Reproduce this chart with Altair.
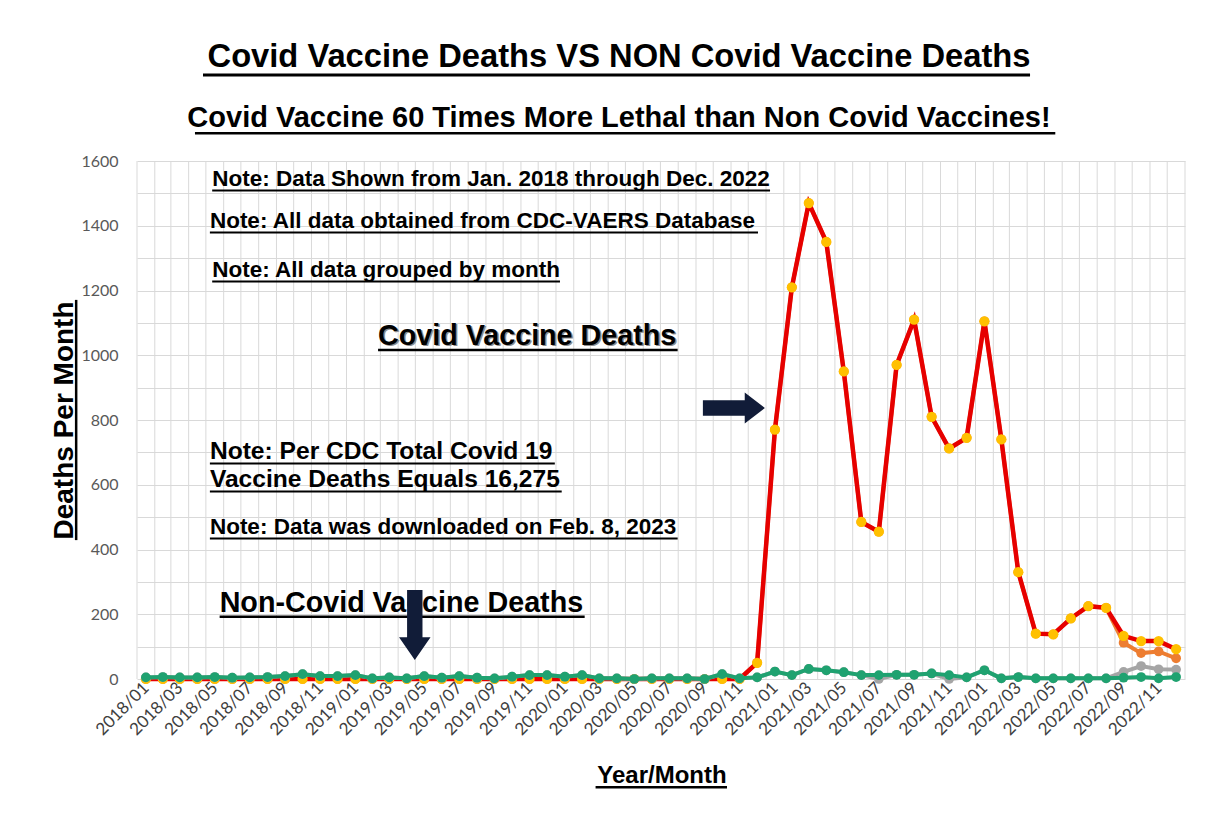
import altair as alt
import pandas as pd

# ---------------- data ----------------
months = [f"{y}/{m:02d}" for y in range(2018, 2023) for m in range(1, 13)]

covid_deaths = [
    0, 0, 0, 0, 0, 0, 0, 0, 0, 0, 0, 0,
    0, 0, 0, 0, 0, 0, 0, 0, 0, 0, 0, 0,
    0, 0, 0, 0, 0, 0, 0, 0, 0, 0, 0, 50,
    770, 1210, 1470, 1350, 950, 485, 455, 970, 1110, 810, 712, 745,
    1105, 740, 330, 140, 138, 187, 225, 220, 133, 117, 117, 92,
]
covid_deaths_b = [
    0, 0, 0, 0, 0, 0, 0, 0, 0, 0, 0, 0,
    0, 0, 0, 0, 0, 0, 0, 0, 0, 0, 0, 0,
    0, 0, 0, 0, 0, 0, 0, 0, 0, 0, 0, 50,
    770, 1210, 1470, 1350, 950, 485, 455, 970, 1110, 810, 712, 745,
    1105, 740, 330, 140, 138, 187, 225, 220, 112, 80, 85, 64,
]
noncovid_deaths = [
    5, 6, 5, 5, 6, 4, 5, 6, 9, 15, 9, 9,
    12, 2, 5, 2, 9, 4, 9, 4, 2, 7, 12, 12,
    7, 12, 2, 2, 0, 2, 2, 2, 0, 15, 2, 5,
    23, 12, 31, 27, 21, 12, 12, 13, 13, 17, 12, 5,
    27, 2, 6, 2, 2, 2, 2, 2, 4, 6, 2, 6,
]
noncovid_deaths_b = [
    5, 6, 5, 5, 6, 4, 5, 6, 9, 15, 9, 9,
    12, 2, 5, 2, 9, 4, 9, 4, 2, 7, 12, 12,
    7, 12, 2, 2, 0, 2, 2, 2, 0, 15, 2, 5,
    23, 12, 31, 27, 21, 12, 0, 13, 13, 17, 0, 5,
    27, 2, 6, 2, 2, 2, 2, 2, 22, 40, 30, 29,
]

# annotation texts and their anchors (data units: date, deaths)
note_texts = [
    "Note: Data Shown from Jan. 2018 through Dec. 2022",
    "Note: All data obtained from CDC-VAERS Database",
    "Note: All data grouped by month",
    "Note: Per CDC Total Covid 19",
    "Vaccine Deaths Equals 16,275",
    "Note: Data was downloaded on Feb. 8, 2023",
]
note_starts = ["2018-05-12", "2018-05-08", "2018-05-12", "2018-05-08", "2018-05-08", "2018-05-08"]
note_ends = ["2021-01-08", "2020-12-18", "2020-01-08", "2019-12-30", "2020-01-11", "2020-07-31"]
note_values = [1523, 1393, 1242, 680, 593, 448]

# ---------------- frames ----------------
starts = pd.to_datetime(months, format="%Y/%m")
nexts = starts + pd.offsets.MonthBegin(1)
mids = starts + (nexts - starts) / 2

frames = []
for name, vals in [
    ("Covid Vaccine Deaths (B)", covid_deaths_b),
    ("Covid Vaccine Deaths", covid_deaths),
    ("Non-Covid Vaccine Deaths (B)", noncovid_deaths_b),
    ("Non-Covid Vaccine Deaths", noncovid_deaths),
]:
    frames.append(pd.DataFrame({"date": mids, "month": months, "deaths": vals, "series": name}))
data = pd.concat(frames, ignore_index=True)

grid = pd.DataFrame({"start": list(starts) + [pd.Timestamp("2023-01-01")]})
one = pd.DataFrame({"k": [0]})

BOLD = "Liberation Sans"
LAB = "Lato"


def dt(s):
    y, m, d = (int(p) for p in s.split("-"))
    return alt.DateTime(year=y, month=m, date=d)


label_dates = [alt.DateTime(year=t.year, month=t.month, date=t.day, hours=t.hour) for t in mids[::2]]

x_scale = alt.Scale(domain=[alt.DateTime(year=2018, month=1, date=1), alt.DateTime(year=2023, month=1, date=1)])
y_scale = alt.Scale(domain=[0, 1600], nice=False)

x_axis = alt.Axis(
    values=label_dates, format="%Y/%m", labelAngle=-45, labelAlign="right", labelBaseline="middle",
    labelFont=LAB, labelFontSize=17, labelColor="#404040", labelPadding=6, labelOverlap=False,
    labelBound=False, labelFlush=False, grid=False, ticks=False, domain=False,
    title="Year/Month", titleFont=BOLD, titleFontSize=24, titleFontWeight="bold", titleColor="black",
    titleX=524.5, titleY=103, titleAlign="center", titleBaseline="alphabetic",
)
y_axis = alt.Axis(
    values=list(range(0, 1700, 100)), labelExpr="datum.value % 200 == 0 ? format(datum.value, 'd') : ''",
    labelFont=LAB, labelFontSize=16, labelColor="#595959", labelPadding=19,
    grid=True, gridColor="#D9D9D9", gridWidth=1, ticks=False, domain=False,
    title="Deaths Per Month", titleFont=BOLD, titleFontSize=28, titleFontWeight="bold", titleColor="black",
    titleX=-65, titleY=259, titleAngle=270, titleAlign="center", titleBaseline="alphabetic",
)

X = alt.X("date:T", scale=x_scale, axis=x_axis)
Y = alt.Y("deaths:Q", scale=y_scale, axis=y_axis)


def xd(s):
    return alt.XDatum(dt(s), type="temporal", scale=x_scale, axis=x_axis)


def yd(v):
    return alt.YDatum(v, type="quantitative", scale=y_scale, axis=y_axis)


def text_mark(text, start, value, size, weight="bold", color="black", dx=0, dy=0):
    return alt.Chart(one).mark_text(
        text=text, align="left", baseline="alphabetic", font=BOLD, fontSize=size,
        fontWeight=weight, color=color, dx=dx, dy=dy
    ).encode(x=xd(start), y=yd(value))


def hline(start, end, value, width=2):
    return alt.Chart(one).mark_rule(color="black", strokeWidth=width).encode(
        x=xd(start), x2=alt.X2Datum(dt(end)), y=yd(value)
    )


layers = []
# vertical gridlines at month boundaries
layers.append(alt.Chart(grid).mark_rule(color="#D9D9D9", strokeWidth=1).encode(
    x=alt.X("start:T", scale=x_scale, axis=x_axis)))

base = alt.Chart(data)


def series_layers(name, line_color, dot_color, lw, dot_size):
    b = base.transform_filter(alt.datum.series == name)
    return [
        b.mark_line(color=line_color, strokeWidth=lw).encode(x=X, y=Y),
        b.mark_circle(color=dot_color, size=dot_size, opacity=1).encode(x=X, y=Y),
    ]


layers += series_layers("Covid Vaccine Deaths (B)", "#ED7D31", "#ED7D31", 4, 95)
layers += series_layers("Covid Vaccine Deaths", "#E60000", "#FFC000", 4.5, 105)
layers += series_layers("Non-Covid Vaccine Deaths (B)", "#A5A5A5", "#A5A5A5", 4, 95)
layers += series_layers("Non-Covid Vaccine Deaths", "#1FA270", "#1FA270", 4, 95)

# notes with underlines
for t, s, e, v in zip(note_texts, note_starts, note_ends, note_values):
    size = 24.6 if ("Per CDC" in t or "16,275" in t) else 22.5
    layers.append(text_mark(t, s, v, size))
    layers.append(hline(s, e, v - 14, 2))

layers.append(text_mark("Covid Vaccine Deaths", "2019-02-25", 1032, 28.7, color="#8C8C8C", dx=1.5, dy=1.5))
layers.append(text_mark("Covid Vaccine Deaths", "2019-02-25", 1032, 28.7))
layers.append(hline("2019-02-25", "2020-07-31", 1016, 2.5))
layers.append(text_mark("Non-Covid Vaccine Deaths", "2018-05-25", 207, 28.7))
layers.append(hline("2018-05-25", "2020-02-20", 192, 2.5))

# title underlines
layers.append(hline("2018-04-26", "2022-04-06", 1866, 3))
layers.append(hline("2018-04-12", "2022-05-20", 1686, 2.5))
# axis title underlines
layers.append(hline("2020-03-10", "2020-10-25", -334, 2.5))
layers.append(alt.Chart(one).mark_rule(color="black", strokeWidth=2.5).encode(
    x=xd("2017-09-17"), y=yd(429), y2=alt.Y2Datum(1171)))

# arrows
right_arrow = "M-1,-0.25 L0.35,-0.25 L0.35,-0.5 L1,0 L0.35,0.5 L0.35,0.25 L-1,0.25 Z"
down_arrow = "M-0.22,-1 L0.22,-1 L0.22,0.35 L0.45,0.35 L0,1 L-0.45,0.35 L-0.22,0.35 Z"
layers.append(alt.Chart(one).mark_point(shape=right_arrow, size=3844, filled=True, color="#111C38", opacity=1)
              .encode(x=xd("2020-11-06"), y=yd(837)))
layers.append(alt.Chart(one).mark_point(shape=down_arrow, size=4900, filled=True, color="#111C38", opacity=1)
              .encode(x=xd("2019-04-30"), y=yd(167)))

chart = alt.layer(*layers).properties(
    width=1048,
    height=518,
    title=alt.TitleParams(
        text="Covid Vaccine Deaths VS NON Covid Vaccine Deaths",
        subtitle="Covid Vaccine 60 Times More Lethal than Non Covid Vaccines!",
        font=BOLD, fontSize=32.7, fontWeight="bold", color="black",
        subtitleFont=BOLD, subtitleFontSize=29, subtitleFontWeight="bold", subtitleColor="black",
        anchor="middle", frame="group", dx=-42, offset=-60, subtitlePadding=31,
    ),
    padding={"left": 129, "top": 153, "right": 25, "bottom": 130},
    autosize=alt.AutoSizeParams(type="none"),
    background="white",
).configure_view(stroke=None)

chart.save("out.html", embed_options={"renderer": "svg", "actions": False})
